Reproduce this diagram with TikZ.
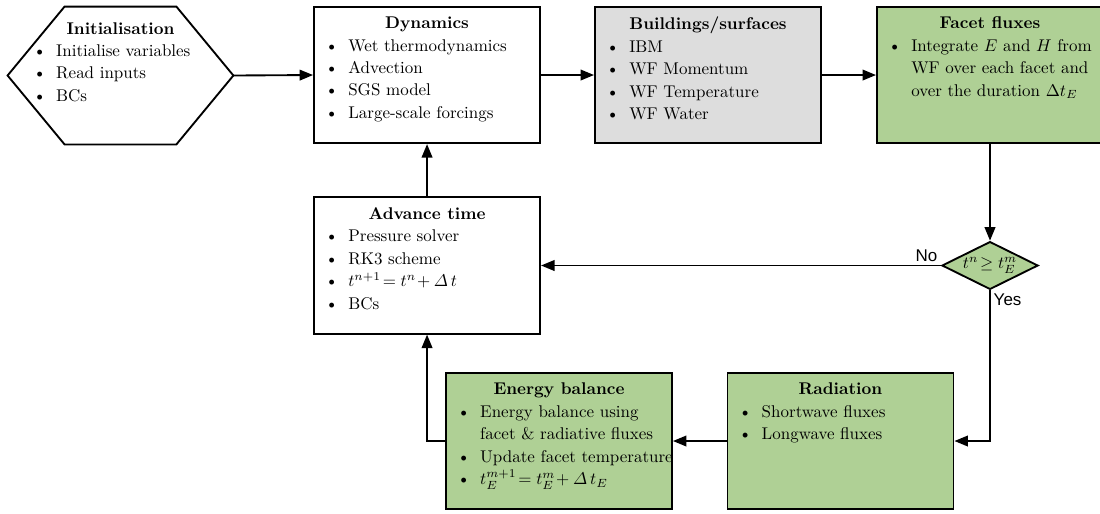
\documentclass[tikz,border=0pt]{standalone}
\usepackage{amsmath,amssymb}
\usepackage{fontspec}
\newfontfamily\answerfont{Liberation Sans}
\usepackage{xcolor}
\usetikzlibrary{arrows.meta,shapes.geometric}

\definecolor{facetgreen}{HTML}{AFD095}
\definecolor{surfgray}{HTML}{DDDDDD}

% bullet line and continuation line
\newcommand{\itm}{\par\hspace*{0.02cm}\makebox[0.48cm][l]{\textbullet}}
\newcommand{\cnt}{\par\hspace*{0.50cm}}
% box body: width, title, items
\newcommand{\boxbody}[3]{\begin{minipage}[c][2.4cm][t]{#1}\fontsize{10}{13.2}\selectfont
  \centering\textbf{#2}\par\raggedright #3\vfill\end{minipage}}

\begin{document}
\begin{tikzpicture}[
    procbox/.style={draw, line width=1.1pt, rectangle, minimum width=4.68cm,
      minimum height=2.82cm, inner xsep=0.21cm, inner ysep=0.21cm},
    greenbox/.style={procbox, fill=facetgreen},
    graybox/.style={procbox, fill=surfgray},
    initbox/.style={rectangle, minimum width=4.66cm, minimum height=2.84cm,
      inner xsep=0.5cm, inner ysep=0.32cm},
    decision/.style={diamond, draw, line width=1.1pt, fill=facetgreen, aspect=2,
      minimum width=1.99cm, minimum height=0.99cm, inner sep=0pt},
    arr/.style={line width=1.1pt, -{Triangle[length=0.28cm,width=0.22cm]}},
    answer/.style={font=\answerfont, inner sep=2pt}]
  \useasboundingbox (0,0) rectangle (22.77,-10.62);

  % Top row
  \node[initbox] (init) at (2.494,-1.563)
    {\begin{minipage}[c][2.2cm][t]{3.66cm}\fontsize{10}{13.2}\selectfont
      \centering\textbf{Initialisation}\par\raggedright
      \itm Initialise variables \itm Read inputs \itm BCs\vfill\end{minipage}};
  \draw[line width=1.1pt] (init.west) -- ([xshift=1.18cm]init.north west)
    -- ([xshift=-1.18cm]init.north east) -- (init.east)
    -- ([xshift=-1.18cm]init.south east) -- ([xshift=1.18cm]init.south west) -- cycle;

  \node[procbox] (dyn) at (8.84,-1.553)
    {\boxbody{4.26cm}{Dynamics}{\itm Wet thermodynamics \itm Advection \itm SGS model \itm Large-scale forcings}};
  \node[graybox] (bld) at (14.656,-1.553)
    {\boxbody{4.26cm}{Buildings/surfaces}{\itm IBM \itm WF Momentum \itm WF Temperature \itm WF Water}};
  \node[greenbox] (facet) at (20.493,-1.553)
    {\boxbody{4.26cm}{Facet fluxes}{\itm Integrate $E$ and $H$ from \cnt WF over each facet and \cnt over the duration $\Delta t_E$}};

  % Decision
  \node[decision] (dec) at (20.493,-5.496) {$t^n\!\geq t_E^m$};
  \node[answer, anchor=south east] (no) at (dec.west) {No};
  \node[answer, anchor=north west] (yes) at (dec.south) {Yes};

  % Middle and bottom rows
  \node[procbox] (adv) at (8.84,-5.496)
    {\boxbody{4.26cm}{Advance time}{\itm Pressure solver \itm RK3 scheme
      \itm $t^{n+1}\!=t^{n}\!+\varDelta\,t$ \itm BCs}};
  \node[greenbox] (eb) at (11.571,-9.129)
    {\boxbody{4.26cm}{Energy balance}{\itm Energy balance using \cnt facet \& radiative fluxes
      \itm \mbox{Update facet temperature} \itm $t_E^{m+1}\!=t_E^{m}\!+\varDelta\,t_E$}};
  \node[greenbox] (rad) at (17.398,-9.129)
    {\boxbody{4.26cm}{Radiation}{\itm Shortwave fluxes \itm Longwave fluxes}};

  % Connectors
  \draw[arr] (init.east) -- (dyn.west);
  \draw[arr] (dyn.east) -- (bld.west);
  \draw[arr] (bld.east) -- (facet.west);
  \draw[arr] (facet.south) -- (dec.north);
  \draw[arr] (dec.west) -- (adv.east);
  \draw[arr] (dec.south) |- (rad.east);
  \draw[arr] (rad.west) -- (eb.east);
  \draw[arr] (eb.west) -| (adv.south);
  \draw[arr] (adv.north) -- (dyn.south);
\end{tikzpicture}
\end{document}
